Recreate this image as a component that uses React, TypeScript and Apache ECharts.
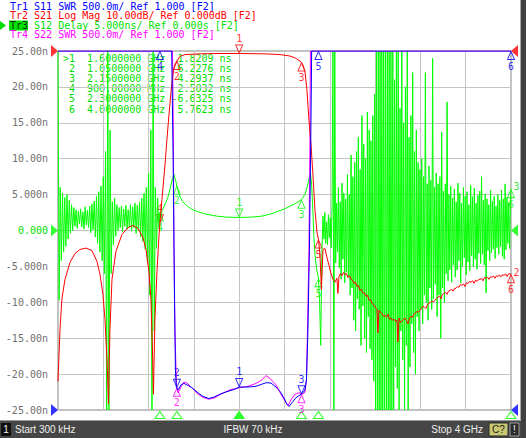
import React, { useEffect, useRef } from "react";
import * as echarts from "echarts";

const MONO = "DejaVu Sans Mono";
const SANS = "Liberation Sans";

const startGHz = 0.0003;
const stopGHz = 4.0;

const traceTitles = [
  "Tr1 S11 SWR 500.0m/ Ref 1.000 [F2]",
  "Tr2 S21 Log Mag 10.00dB/ Ref 0.000dB [F2]",
  "Tr3 S12 Delay 5.000ns/ Ref 0.000s [F2]",
  "Tr4 S22 SWR 500.0m/ Ref 1.000 [F2]",
];

const markerNames = ["1", "2", "3", "4", "5", "6"];
const markerFreqGHz = [1.6, 1.05, 2.15, 0.9, 2.3, 4.0];
const markerFreqText = ["1.6000000 GHz", "1.0500000 GHz", "2.1500000 GHz", "900.00000 MHz", "2.3000000 GHz", "4.0000000 GHz"];
const markerDelayNs = [1.8209, 6.2276, 4.2937, 2.5032, -6.6325, 5.7623];
const markerS21Db = [-0.7, -2.8, -3.2, -48, -52.5, -62.2];
const markerS11Swr = [1.32, 1.31, 1.22, 6, 6, 6];
const markerS22Swr = [1.31, 1.31, 1.22, 6, 6, 6];

const statusTexts = ["Start 300 kHz", "IFBW 70 kHz", "Stop 4 GHz", "C?", "!", "1"];

// S21 log magnitude, [GHz, dB]
const s21Db: [number, number][] = [
  [0.0003, -92], [0.018, -77.5], [0.035, -69], [0.062, -63.6], [0.106, -58.9], [0.15, -56.4],
  [0.194, -55.3], [0.247, -54.9], [0.3, -55.6], [0.344, -58.6], [0.371, -62.2], [0.397, -67.8],
  [0.415, -74.7], [0.433, -85.8], [0.446, -98.3], [0.459, -77.5], [0.477, -63.6], [0.512, -55.8],
  [0.565, -51.1], [0.618, -49.2], [0.662, -48.6], [0.706, -49.4], [0.75, -51.9], [0.777, -55.3],
  [0.803, -61.4], [0.821, -69.2], [0.834, -83], [0.843, -95.6], [0.856, -74.7], [0.874, -61.5],
  [0.892, -51.5], [0.9, -48], [0.918, -41.4], [0.945, -31.7], [0.962, -24.7], [0.98, -17.8],
  [0.998, -11.4], [1.011, -7.5], [1.024, -4.7], [1.037, -3.4], [1.05, -2.8], [1.077, -1.5],
  [1.121, -1.0], [1.254, -0.8], [1.386, -0.7], [1.6, -0.7], [1.828, -0.8], [1.96, -1.0],
  [2.048, -1.4], [2.092, -1.9], [2.137, -2.8], [2.15, -3.2], [2.163, -3.9], [2.181, -5.8],
  [2.198, -10.8], [2.216, -19.2], [2.234, -26], [2.251, -34.4], [2.269, -44.2], [2.287, -50.5],
  [2.3, -52.5], [2.313, -56.5], [2.326, -66.4], [2.34, -55.3], [2.357, -55.0], [2.375, -57.5],
  [2.393, -59.7], [2.41, -61.9], [2.428, -63.6], [2.445, -64.4], [2.463, -63.3], [2.472, -67.5],
  [2.481, -62.8], [2.494, -62.0], [2.507, -62.6], [2.521, -61.7], [2.534, -62.3], [2.547, -62.0],
  [2.56, -63.1], [2.574, -62.6], [2.587, -63.6], [2.6, -63.8], [2.613, -64.7], [2.627, -64.4],
  [2.64, -65.6], [2.653, -65.3], [2.666, -66.7], [2.68, -66.4], [2.693, -67.5], [2.706, -67.4],
  [2.719, -68.3], [2.733, -68.0], [2.746, -69.4], [2.759, -69.2], [2.772, -70.3], [2.786, -70.6],
  [2.799, -71.3], [2.816, -72.0], [2.825, -78.5], [2.834, -72.2], [2.848, -72.8], [2.861, -73.1],
  [2.874, -73.9], [2.887, -73.6], [2.9, -74.2], [2.914, -73.3], [2.927, -74.7], [2.94, -74.4],
  [2.953, -75.0], [2.967, -74.7], [2.98, -75.3], [2.993, -75.0], [3.002, -81.0], [3.011, -74.4],
  [3.024, -75.6], [3.037, -75.3], [3.05, -74.7], [3.064, -74.4], [3.077, -75.0], [3.09, -76.0],
  [3.104, -74.4], [3.117, -73.9], [3.13, -74.2], [3.143, -73.3], [3.157, -73.0], [3.17, -72.5],
  [3.183, -72.8], [3.196, -72.2], [3.21, -71.7], [3.223, -71.1], [3.236, -71.4], [3.249, -71.7],
  [3.263, -70.6], [3.276, -70.3], [3.289, -70.0], [3.302, -69.7], [3.316, -69.9], [3.329, -69.4],
  [3.342, -68.9], [3.355, -68.6], [3.369, -68.3], [3.382, -69.0], [3.395, -67.8], [3.408, -67.5],
  [3.422, -67.2], [3.435, -67.8], [3.448, -66.9], [3.461, -66.7], [3.475, -66.4], [3.488, -66.9],
  [3.501, -66.1], [3.514, -66.1], [3.528, -65.6], [3.541, -65.8], [3.554, -65.0], [3.567, -65.3],
  [3.581, -64.9], [3.594, -65.6], [3.607, -64.6], [3.62, -64.7], [3.634, -64.2], [3.647, -64.4],
  [3.66, -64.0], [3.673, -64.7], [3.687, -63.8], [3.7, -64.2], [3.713, -63.7], [3.726, -63.6],
  [3.74, -63.4], [3.753, -64.0], [3.766, -63.1], [3.779, -63.3], [3.793, -63.0], [3.806, -63.6],
  [3.819, -62.9], [3.832, -63.0], [3.846, -62.7], [3.859, -63.3], [3.872, -62.6], [3.885, -62.8],
  [3.899, -62.4], [3.912, -62.9], [3.925, -62.3], [3.938, -62.5], [3.952, -62.1], [3.965, -62.8],
  [3.982, -62.0], [4.0, -62.2],
];

// S11 SWR, [GHz, SWR]
const s11Swr: [number, number][] = [
  [0.0003, 6], [1.004, 6], [1.016, 4.61], [1.029, 2.53], [1.037, 1.56], [1.046, 1.31], [1.06, 1.28],
  [1.086, 1.35], [1.112, 1.37], [1.139, 1.35], [1.183, 1.31], [1.236, 1.24], [1.28, 1.19],
  [1.333, 1.16], [1.377, 1.18], [1.43, 1.22], [1.501, 1.26], [1.563, 1.29], [1.6, 1.32],
  [1.678, 1.32], [1.748, 1.33], [1.801, 1.36], [1.837, 1.38], [1.881, 1.375], [1.925, 1.32],
  [1.96, 1.26], [1.995, 1.17], [2.022, 1.08], [2.04, 1.05], [2.066, 1.1], [2.101, 1.17],
  [2.137, 1.21], [2.163, 1.24], [2.181, 1.28], [2.194, 1.42], [2.207, 2.11], [2.22, 3.22],
  [2.234, 5.03], [2.24, 6], [4.0, 6],
];

// S22 SWR, [GHz, SWR]
const s22Swr: [number, number][] = [
  [0.0003, 6], [1.011, 6], [1.018, 4.96], [1.024, 3.36], [1.033, 2.11], [1.046, 1.35], [1.06, 1.24],
  [1.086, 1.32], [1.112, 1.39], [1.139, 1.375], [1.183, 1.31], [1.236, 1.22], [1.289, 1.17],
  [1.333, 1.15], [1.386, 1.17], [1.448, 1.23], [1.519, 1.28], [1.6, 1.31], [1.678, 1.33],
  [1.748, 1.37], [1.801, 1.42], [1.837, 1.48], [1.872, 1.44], [1.925, 1.35], [1.969, 1.22],
  [2.004, 1.125], [2.031, 1.06], [2.057, 1.14], [2.092, 1.22], [2.128, 1.24], [2.163, 1.22],
  [2.181, 1.25], [2.194, 1.42], [2.203, 2.11], [2.216, 3.22], [2.225, 4.75], [2.229, 6], [4.0, 6],
];

// S12 group delay, [GHz, ns]
const s12DelayNs: [number, number][] = [
  [0.0003, 25], [0.01, -9.7], [0.02, 6.0], [0.03, -4.2], [0.04, 5.2], [0.05, -3.0], [0.06, 4.6],
  [0.07, -2.2], [0.08, 5.0], [0.09, -1.2], [0.1, 4.2], [0.11, -0.4], [0.12, 3.6], [0.13, 0.0],
  [0.14, 3.2], [0.15, 0.6], [0.16, 2.9], [0.17, 0.3], [0.18, 2.7], [0.19, 0.9], [0.2, 3.0],
  [0.21, 0.5], [0.22, 2.6], [0.23, 0.2], [0.24, 3.3], [0.25, 0.8], [0.26, 2.8], [0.27, 0.4],
  [0.28, 3.4], [0.29, -0.3], [0.3, 3.7], [0.31, 0.1], [0.32, 4.1], [0.33, -0.9], [0.34, 4.8],
  [0.35, -1.8], [0.36, 5.4], [0.37, -3.0], [0.38, 6.2], [0.39, -4.2], [0.4, 7.5], [0.41, -6.0],
  [0.42, 11], [0.43, -25], [0.44, 25], [0.45, -25], [0.46, 14], [0.47, -6], [0.48, 4.0],
  [0.49, -2.0], [0.5, 4.5], [0.51, -0.8], [0.52, 3.6], [0.53, 0.0], [0.54, 3.2], [0.55, 0.4],
  [0.56, 3.4], [0.57, -0.2], [0.58, 3.0], [0.59, 0.6], [0.6, 3.5], [0.61, 0.2], [0.62, 2.9],
  [0.63, 0.5], [0.64, 3.6], [0.65, -0.1], [0.66, 3.3], [0.67, 0.4], [0.68, 3.8], [0.69, -0.4],
  [0.7, 3.5], [0.71, 0.0], [0.72, 4.0], [0.73, -0.9], [0.74, 4.5], [0.75, -1.5], [0.76, 5.2],
  [0.77, -2.6], [0.78, 6.0], [0.79, -4.5], [0.8, 8], [0.81, -9], [0.82, 14], [0.83, -25],
  [0.84, 25], [0.85, -14], [0.86, 6], [0.87, -2.5], [0.88, 4.5], [0.89, 0.5], [0.9, 2.5],
  [0.91, 1.8], [0.92, 2.8], [0.93, 3.1], [0.95, 3.8], [0.97, 4.6], [0.99, 5.8], [1.01, 7.2],
  [1.025, 7.8], [1.04, 6.9], [1.05, 6.23], [1.07, 5.0], [1.1, 4.0], [1.15, 3.3], [1.2, 2.8],
  [1.3, 2.3], [1.4, 2.0], [1.5, 1.85], [1.6, 1.82], [1.7, 1.85], [1.8, 2.0], [1.9, 2.4],
  [1.95, 2.7], [2.0, 3.0], [2.05, 3.4], [2.1, 3.8], [2.15, 4.29], [2.18, 5.0], [2.2, 6.0],
  [2.22, 7.5], [2.23, 7.9], [2.24, 6.3], [2.25, 3.0], [2.26, -1.0], [2.27, -3.5], [2.285, -5.5],
  [2.3, -6.63], [2.31, -10], [2.32, -16], [2.33, -3],
  [2.34, 2.0], [2.348, -1.2], [2.356, 2.5], [2.364, -1.8], [2.372, 1.2], [2.38, -2.0], [2.388, 2.2],
  [2.396, -1.0], [2.404, 1.8], [2.412, -2.4], [2.42, 3.5], [2.428, 25], [2.436, -25], [2.444, 25],
  [2.452, -4.5], [2.46, 3.8], [2.468, -3.0], [2.476, 6.0], [2.484, -5.2], [2.492, 4.0], [2.5, -6.8],
  [2.508, 6.6], [2.516, -4.0], [2.524, 5.2], [2.532, -7.3], [2.54, 4.4], [2.548, -5.8], [2.556, 7.8],
  [2.564, -6.5], [2.572, 5.0], [2.58, -9.0], [2.588, 10.5], [2.596, -8.0], [2.604, 7.5], [2.612, -12.5],
  [2.62, 9.5], [2.628, -14.0], [2.636, 11.0], [2.644, -9.5], [2.652, 13.0], [2.66, -11.0], [2.668, 8.5],
  [2.676, -16.0], [2.684, 16.0], [2.692, -10.5], [2.7, 12.0], [2.708, -15.0], [2.716, 10.0],
  [2.724, -17.0], [2.732, 16.5], [2.74, -12.0], [2.748, 14.0], [2.756, -16.5], [2.764, 12.5],
  [2.772, -18.0], [2.78, 16.0], [2.788, -21.0], [2.796, 19.0], [2.804, -25], [2.812, 25], [2.82, -25],
  [2.828, 25], [2.836, -25], [2.844, 25], [2.852, -25], [2.86, 25], [2.868, -25], [2.876, 25],
  [2.884, -25], [2.892, 25], [2.9, -25], [2.908, 25], [2.916, -25], [2.924, 25], [2.932, -25],
  [2.94, 25], [2.948, -25], [2.956, 25], [2.964, -25], [2.972, 21], [2.98, -19], [2.988, 25],
  [2.996, -22], [3.004, 25], [3.012, -25], [3.02, 17], [3.028, -14], [3.036, 25], [3.044, -18],
  [3.052, 15], [3.06, -25], [3.068, 20], [3.076, -16], [3.084, 25], [3.092, -25], [3.1, 13],
  [3.108, -19], [3.116, 16], [3.124, -13], [3.132, 22], [3.14, -17], [3.148, 11], [3.156, -20],
  [3.164, 14], [3.172, -12], [3.18, 9.5], [3.188, -14], [3.196, 8.5], [3.204, -11], [3.212, 10],
  [3.22, -13], [3.228, 7.5], [3.236, -9], [3.244, 22], [3.252, -10], [3.26, 6.5], [3.268, -12.5],
  [3.276, 9], [3.284, -8], [3.292, 7], [3.3, -11], [3.308, 24], [3.316, -9.5], [3.324, 6],
  [3.332, -7.5], [3.34, 8], [3.348, -12], [3.356, 6.5], [3.364, -9], [3.372, 7.5], [3.38, -15],
  [3.388, 13.7], [3.396, -8], [3.404, 5.5], [3.412, -10], [3.42, 6.5], [3.428, -6], [3.436, 17.9],
  [3.444, -7], [3.452, 5], [3.46, -5.5], [3.468, 6.2], [3.476, -7.2], [3.484, 4.5], [3.492, -4.8],
  [3.5, 5.8], [3.508, -6.5], [3.516, 4.0], [3.524, -5.5], [3.532, 6.6], [3.54, -4.2], [3.548, 5.2],
  [3.556, -7.3], [3.564, 3.8], [3.572, -5.0], [3.58, 6.0], [3.588, -3.8], [3.596, 4.8], [3.604, -6.2],
  [3.612, 5.4], [3.62, -4.4], [3.628, 3.6], [3.636, -5.6], [3.644, 6.3], [3.652, -3.5], [3.66, 4.7],
  [3.668, -5.1], [3.676, 5.9], [3.684, -4.0], [3.692, 3.8], [3.7, -5.4], [3.708, 4.9], [3.716, -3.2],
  [3.724, 5.5], [3.732, -4.6], [3.74, 7.5], [3.748, -3.3], [3.756, 4.2], [3.764, -4.8], [3.772, 5.1],
  [3.78, -8.7], [3.788, 4.4], [3.796, -2.8], [3.804, 3.6], [3.812, -4.2], [3.82, 5.6], [3.828, -3.1],
  [3.836, 4.1], [3.844, -2.6], [3.852, 4.8], [3.86, -3.9], [3.868, 3.4], [3.876, -2.4], [3.884, 5.0],
  [3.892, -3.3], [3.9, 4.2], [3.908, -2.2], [3.916, 5.6], [3.924, -3.6], [3.932, 4.4], [3.94, -4.0],
  [3.948, 6.5], [3.956, -2.7], [3.964, 4.6], [3.972, -1.8], [3.98, 3.9], [3.988, -2.5], [3.996, 4.8],
  [4.0, 5.76],
];

const BLUE = "#0000ff";
const RED = "#ff0000";
const GREEN = "#00ff00";
const GREEN_TXT = "#00e000";
const MAGENTA = "#ff00ff";

const DOWN = "path://M0,0L8,0L4,9Z";
const UP = "path://M4,0L8,9L0,9Z";
const RIGHT_TRI = "path://M0,0L7,6L0,12Z";
const LEFT_TRI = "path://M7,0L0,6L7,12Z";

// placement: 1 = triangle above the trace with label above, -1 = below, 0 = hidden (covered by another trace)
function markerSeries(yAxisIndex: number, values: number[], color: string, place: number[]) {
  const data: any[] = [];
  markerFreqGHz.forEach((f, i) => {
    if (place[i] === 0) return;
    const above = place[i] > 0;
    data.push({
      name: markerNames[i],
      value: [f, values[i]],
      symbol: above ? DOWN : UP,
      symbolOffset: [0, above ? -4.5 : 4.5],
      label: { position: above ? "top" : "bottom" },
    });
  });
  return {
    type: "scatter",
    xAxisIndex: 0,
    yAxisIndex,
    clip: false,
    silent: true,
    symbolSize: [7, 8],
    itemStyle: { color: "rgba(0,0,0,0)", borderColor: color, borderWidth: 1 },
    label: { show: true, color, fontFamily: MONO, fontSize: 10, distance: 1, formatter: "{b}" },
    data,
  };
}

function lineSeries(data: [number, number][], yAxisIndex: number, color: string) {
  return {
    type: "line",
    xAxisIndex: 0,
    yAxisIndex,
    data,
    showSymbol: false,
    symbol: "none",
    silent: true,
    clip: true,
    lineStyle: { color, width: 1 },
  };
}

function refSeries(yAxisIndex: number, ref: number, color: string) {
  return {
    type: "scatter",
    xAxisIndex: 0,
    yAxisIndex,
    clip: false,
    silent: true,
    symbolSize: [7, 12],
    itemStyle: { color },
    data: [
      { value: [startGHz, ref], symbol: RIGHT_TRI, symbolOffset: [-3.5, 0] },
      { value: [stopGHz, ref], symbol: LEFT_TRI, symbolOffset: [3.5, 0] },
    ],
  };
}

function txt(text: string, x: number, y: number, fill: string, font: string, size: number, align = "left") {
  return {
    type: "text",
    x,
    y,
    silent: true,
    style: {
      text,
      fill,
      fontFamily: font,
      fontSize: size,
      align,
      verticalAlign: "middle",
      textAlign: align,
      textVerticalAlign: "middle",
    },
  };
}

function buildOption() {
  const titleColors = [BLUE, RED, GREEN_TXT, MAGENTA];
  const titleY = [6, 15.6, 25.2, 34.8];
  const graphics: any[] = [];
  traceTitles.forEach((t, i) => {
    if (i === 2) {
      graphics.push({ type: "polygon", silent: true, shape: { points: [[0, 21], [6, 25.5], [0, 30]] }, style: { fill: GREEN_TXT } });
      graphics.push({ type: "rect", silent: true, shape: { x: 9, y: 20.5, width: 19, height: 10 }, style: { fill: GREEN_TXT } });
      graphics.push(txt(t.slice(0, 3), 10, titleY[i], "#003800", MONO, 10));
      graphics.push(txt(t.slice(3), 10 + 3 * 6.02, titleY[i], titleColors[i], MONO, 10));
    } else {
      graphics.push(txt(t, 10, titleY[i], titleColors[i], MONO, 10));
    }
  });
  markerNames.forEach((n, i) => {
    const row = (i === 0 ? ">" : " ") + n + "  " + markerFreqText[i] + " " + markerDelayNs[i].toFixed(4).padStart(7) + " ns";
    graphics.push(txt(row, 63, 58.5 + 10.1 * i, GREEN_TXT, MONO, 10));
  });
  // status bar and frame
  graphics.push({ type: "rect", silent: true, shape: { x: 0, y: 420, width: 521, height: 1 }, style: { fill: "#9a9a9a" } });
  graphics.push({ type: "rect", silent: true, shape: { x: 0, y: 421, width: 521, height: 17 }, style: { fill: "#464646" } });
  graphics.push({ type: "rect", silent: true, shape: { x: 520, y: 0, width: 1, height: 421 }, style: { fill: "#a8a8a8" } });
  graphics.push({ type: "rect", silent: true, shape: { x: 521, y: 0, width: 5, height: 438 }, style: { fill: "#404040" } });
  graphics.push({ type: "rect", silent: true, shape: { x: 1, y: 423, width: 10, height: 13 }, style: { fill: "#101010" } });
  graphics.push(txt(statusTexts[5], 6, 429.5, "#f0f0f0", SANS, 10, "center"));
  graphics.push(txt(statusTexts[0], 15, 429.5, "#eeeeee", SANS, 10));
  graphics.push(txt(statusTexts[1], 253, 429.5, "#eeeeee", SANS, 10, "center"));
  graphics.push(txt(statusTexts[2], 483, 429.5, "#eeeeee", SANS, 10, "right"));
  graphics.push({ type: "rect", silent: true, shape: { x: 489, y: 423, width: 19, height: 13 }, style: { fill: "#c8c872", stroke: "#2a2a2a", lineWidth: 1 } });
  graphics.push(txt(statusTexts[3], 498.5, 429.5, "#202020", SANS, 10, "center"));
  graphics.push({ type: "rect", silent: true, shape: { x: 510, y: 423, width: 9, height: 13 }, style: { fill: "#2a2a2a", stroke: "#9a9a9a", lineWidth: 1 } });
  graphics.push(txt(statusTexts[4], 514.5, 429.5, "#f0f0f0", SANS, 10, "center"));

  const yFmt = (v: number) => {
    if (v === 0) return "{z|0.000}";
    return Math.abs(v) >= 10 ? v.toFixed(2) + "n" : v.toFixed(3) + "n";
  };

  return {
    animation: false,
    backgroundColor: "#ffffff",
    grid: {
      left: 58,
      top: 51,
      right: 15,
      bottom: 28,
      show: true,
      borderColor: "#808080",
      borderWidth: 1,
      backgroundColor: "rgba(0,0,0,0)",
      containLabel: false,
    },
    xAxis: [
      { type: "value", min: startGHz, max: stopGHz, show: false },
      {
        type: "value",
        min: 0,
        max: 10,
        interval: 1,
        axisLine: { show: false },
        axisTick: { show: false },
        axisLabel: { show: false },
        splitLine: { show: true, lineStyle: { color: "#c4c4c4", width: 1 } },
      },
    ],
    yAxis: [
      {
        type: "value",
        min: -25,
        max: 25,
        interval: 5,
        axisLine: { show: false },
        axisTick: { show: false },
        splitLine: { show: true, lineStyle: { color: "#c4c4c4", width: 1 } },
        axisLabel: {
          margin: 10,
          color: "#707070",
          fontFamily: MONO,
          fontSize: 10,
          formatter: yFmt,
          rich: { z: { color: GREEN_TXT, fontFamily: MONO, fontSize: 10 } },
        },
      },
      { type: "value", min: -100, max: 0, show: false },
      { type: "value", min: 1, max: 6, show: false },
    ],
    graphic: graphics,
    series: [
      lineSeries(s12DelayNs, 0, GREEN),
      lineSeries(s22Swr, 2, MAGENTA),
      lineSeries(s21Db, 1, RED),
      lineSeries(s11Swr, 2, BLUE),
      markerSeries(0, markerDelayNs, GREEN, [1, -1, -1, -1, -1, -1]),
      markerSeries(2, markerS22Swr, MAGENTA, [0, -1, -1, 0, 0, 0]),
      markerSeries(1, markerS21Db, RED, [1, -1, -1, 1, -1, -1]),
      markerSeries(2, markerS11Swr, BLUE, [1, 1, 1, -1, -1, -1]),
      refSeries(1, 0, RED),
      refSeries(0, 0, GREEN),
      refSeries(2, 1, BLUE),
      {
        type: "scatter",
        xAxisIndex: 0,
        yAxisIndex: 0,
        clip: false,
        silent: true,
        symbol: UP,
        symbolSize: [10, 7],
        symbolOffset: [0, 5],
        data: markerFreqGHz.map((f, i) => ({
          value: [f, -25],
          itemStyle: { color: i === 0 ? GREEN : "rgba(0,0,0,0)", borderColor: GREEN, borderWidth: 1 },
        })),
      },
      {
        type: "scatter",
        xAxisIndex: 0,
        yAxisIndex: 0,
        clip: false,
        silent: true,
        symbolSize: 1,
        itemStyle: { color: "rgba(0,0,0,0)" },
        label: { show: true, position: "right", distance: 2, offset: [0, -3], color: GREEN_TXT, fontFamily: MONO, fontSize: 10, formatter: "3" },
        data: [[stopGHz, markerDelayNs[5]]],
      },
      {
        type: "scatter",
        xAxisIndex: 0,
        yAxisIndex: 1,
        clip: false,
        silent: true,
        symbolSize: 1,
        itemStyle: { color: "rgba(0,0,0,0)" },
        label: { show: true, position: "right", distance: 2, offset: [0, -2], color: RED, fontFamily: MONO, fontSize: 10, formatter: "2" },
        data: [[stopGHz, markerS21Db[5]]],
      },
    ],
  };
}

export default function App() {
  const ref = useRef<HTMLDivElement>(null);
  useEffect(() => {
    if (!ref.current) return;
    const chart = echarts.init(ref.current, null, { renderer: "svg" });
    chart.setOption(buildOption() as any);
    return () => chart.dispose();
  }, []);
  return (
    <div
      ref={ref}
      style={{ position: "fixed", left: 0, top: 0, width: 526, height: 438, background: "#ffffff" }}
    />
  );
}
